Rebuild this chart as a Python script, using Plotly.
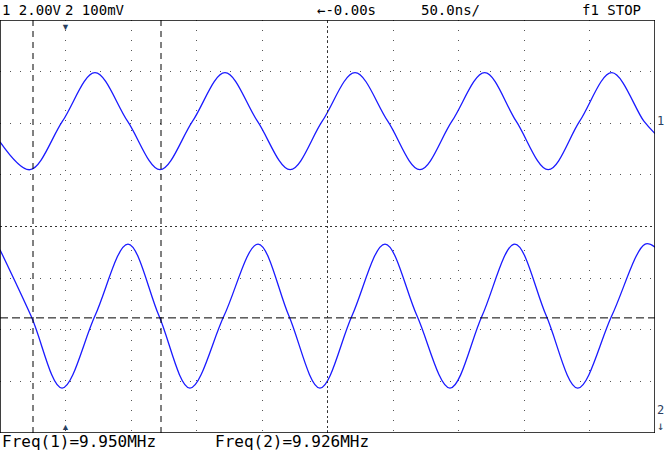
import plotly.graph_objects as go

# positions in divisions (x: 0..10, y: 0..8)
ch1_x = [0, 0.458, 0.954, 1.45, 1.947, 2.443, 2.94, 3.435, 3.93, 4.43, 4.92, 5.42, 5.92, 6.41, 6.90, 7.40, 7.88, 8.37, 8.85, 9.34, 9.83, 10]
ch1_y = [5.64, 5.10, 6.04, 6.98, 6.04, 5.10, 6.04, 6.98, 6.04, 5.10, 6.04, 6.98, 6.04, 5.10, 6.04, 6.98, 6.04, 5.10, 6.04, 6.98, 6.04, 5.80]
ch2_x = [0, 0.473, 0.947, 1.45, 1.954, 2.427, 2.90, 3.42, 3.94, 4.41, 4.885, 5.374, 5.878, 6.366, 6.87, 7.36, 7.86, 8.34, 8.82, 9.34, 9.85, 10]
ch2_y = [3.55, 2.27, 0.87, 2.27, 3.66, 2.27, 0.87, 2.27, 3.66, 2.27, 0.87, 2.27, 3.66, 2.27, 0.87, 2.27, 3.66, 2.27, 0.87, 2.27, 3.66, 3.60]
cursor_x = [0.504, 2.458]
trigger_y = 2.23

top_labels = [("1 2.00V", 0), ("2 100mV", 64), ("←-0.00s", 322), ("50.0ns/", 428), ("f1 STOP", 592)]
bottom_labels = [("Freq(1)=9.950MHz", 0), ("Freq(2)=9.926MHz", 218)]

fig = go.Figure()
blue = "#1a1aff"
fig.add_trace(go.Scatter(x=ch1_x, y=ch1_y, mode="lines", line=dict(color=blue, width=1.3, shape="spline", smoothing=1.0)))
fig.add_trace(go.Scatter(x=ch2_x, y=ch2_y, mode="lines", line=dict(color=blue, width=1.3, shape="spline", smoothing=1.0)))

for cx in cursor_x:
    fig.add_shape(type="line", x0=cx, x1=cx, y0=0, y1=8, line=dict(color="black", width=1, dash="6px,5px"))
fig.add_shape(type="line", x0=0, x1=10, y0=trigger_y, y1=trigger_y, line=dict(color="black", width=1, dash="8px,4px"))
fig.add_shape(type="line", x0=5, x1=5, y0=0, y1=8, line=dict(color="#333", width=1, dash="2px,3px"))
fig.add_shape(type="line", x0=0, x1=10, y0=4, y1=4, line=dict(color="#333", width=1, dash="2px,3px"))
fig.add_shape(type="rect", x0=0, x1=10, y0=0, y1=8, line=dict(color="black", width=1.5))

top_font = dict(family="DejaVu Sans Mono", size=14, color="black")
bot_font = dict(family="DejaVu Sans Mono", size=16, color="black")
ann = []
for t, px in top_labels:
    ann.append(dict(text=t, x=px / 669, y=1, xref="paper", yref="paper", xanchor="left", yanchor="bottom",
                    yshift=0, showarrow=False, font=top_font))
for t, px in bottom_labels:
    ann.append(dict(text=t, x=px / 669, y=0, xref="paper", yref="paper", xanchor="left", yanchor="top",
                    yshift=3, showarrow=False, font=bot_font))
ann.append(dict(text="1", x=10, y=6.04, xref="x", yref="y", xanchor="left", showarrow=False, font=dict(family="DejaVu Sans Mono", size=12)))
ann.append(dict(text="2<br>↓", x=10, y=0.3, xref="x", yref="y", xanchor="left", showarrow=False, font=dict(family="DejaVu Sans Mono", size=12)))
ann.append(dict(text="▼", x=1, y=8, xref="x", yref="y", yanchor="top", yshift=2, showarrow=False, font=dict(size=9)))
ann.append(dict(text="▲", x=1, y=0, xref="x", yref="y", yanchor="bottom", yshift=-2, showarrow=False, font=dict(size=9)))

fig.update_layout(
    width=669, height=452, margin=dict(l=0, r=14, t=20, b=19),
    plot_bgcolor="white", paper_bgcolor="white", showlegend=False, annotations=ann,
    xaxis=dict(range=[0, 10], dtick=1, showgrid=True, gridcolor="#555", griddash="1px,9px", gridwidth=1,
               showticklabels=False, zeroline=False, fixedrange=True),
    yaxis=dict(range=[0, 8], dtick=1, showgrid=True, gridcolor="#555", griddash="1px,9px", gridwidth=1,
               showticklabels=False, zeroline=False, fixedrange=True),
)
fig.write_html("out.html", config={"displayModeBar": False},
               post_script="document.body.style.margin='0';document.body.style.overflow='hidden';")
